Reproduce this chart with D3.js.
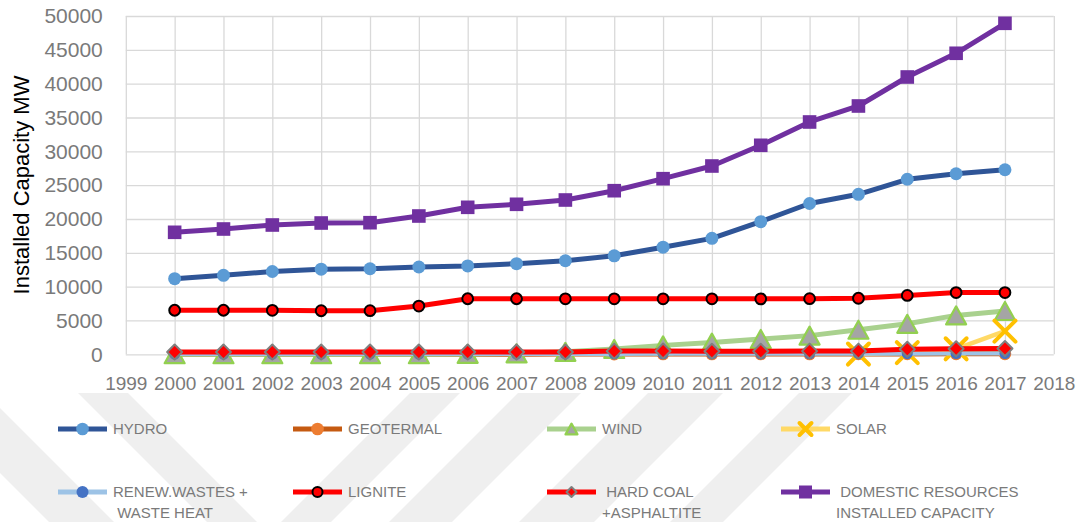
<!DOCTYPE html>
<html>
<head>
<meta charset="utf-8">
<script src="https://cdn.jsdelivr.net/npm/d3@7"></script>
<style>
  html, body { margin: 0; padding: 0; background: #ffffff; }
  svg { display: block; }
  text { font-family: "Liberation Sans", Arial, sans-serif; }
</style>
</head>
<body>
<svg id="chart" width="1084" height="522"></svg>
<script>
// ---- data (MW) ----
const years = [2000, 2001, 2002, 2003, 2004, 2005, 2006, 2007, 2008, 2009,
               2010, 2011, 2012, 2013, 2014, 2015, 2016, 2017];

const hydro      = [11175, 11673, 12241, 12579, 12645, 12906, 13063, 13395, 13829, 14553,
                    15831, 17137, 19609, 22289, 23643, 25868, 26681, 27273];
const geothermal = [18, 18, 18, 15, 15, 15, 23, 23, 30, 30,
                    40, 40, 50, 50, 60, 60, 70, 70];
const wind       = [19, 19, 19, 19, 19, 20, 59, 146, 364, 792,
                    1320, 1729, 2261, 2760, 3630, 4503, 5751, 6400];
const solar      = [null, null, null, null, null, null, null, null, null, null,
                    null, null, null, null, 40, 249, 819, 3421];
const renewWaste = [36, 28, 28, 28, 28, 35, 42, 42, 50, 60,
                    68, 70, 75, 80, 88, 95, 100, 110];
const lignite    = [6509, 6511, 6503, 6439, 6451, 7131, 8211, 8211, 8205, 8199,
                    8199, 8199, 8193, 8223, 8281, 8696, 9127, 9129];
const hardCoal   = [335, 335, 335, 335, 335, 335, 335, 335, 335, 470,
                    480, 440, 440, 470, 470, 740, 810, 850];
const domestic   = [18031, 18519, 19110, 19405, 19450, 20440, 21725, 22170, 22805, 24180,
                    25955, 27830, 30890, 34335, 36700, 40985, 44490, 48920];

const xTickYears = [1999, 2000, 2001, 2002, 2003, 2004, 2005, 2006, 2007, 2008, 2009,
                    2010, 2011, 2012, 2013, 2014, 2015, 2016, 2017, 2018];
const yTickValues = [0, 5000, 10000, 15000, 20000, 25000, 30000, 35000, 40000, 45000, 50000];

const yTitle = "Installed Capacity MW";

// series styling, in drawing order (later series sit on top)
// size = marker half-size in the plot, lsize = half-size of the legend key marker
const series = [
  { label: ["HYDRO"], values: hydro, line: "#2f5597", width: 5,
    marker: "circle", fill: "#5b9bd5", stroke: "none", sw: 0, size: 6.5, lsize: 6.3 },
  { label: ["GEOTERMAL"], values: geothermal, line: "#c55a11", width: 5,
    marker: "circle", fill: "#ed7d31", stroke: "none", sw: 0, size: 6.3, lsize: 6.3 },
  { label: ["WIND"], values: wind, line: "#a9d18e", width: 5,
    marker: "triangle", fill: "#a5a5a5", stroke: "#92d050", sw: 2.2, size: 10, lsize: 6 },
  { label: ["SOLAR"], values: solar, line: "#ffd966", width: 4.5,
    marker: "x", fill: "none", stroke: "#ffc000", sw: 4, size: 10.5, lsize: 6 },
  { label: ["RENEW.WASTES +", " WASTE HEAT"], values: renewWaste, line: "#9dc3e6", width: 4,
    marker: "circle", fill: "#4472c4", stroke: "none", sw: 0, size: 5.5, lsize: 6 },
  { label: ["LIGNITE"], values: lignite, line: "#ff0000", width: 5,
    marker: "circle", fill: "#ff0000", stroke: "#000000", sw: 2, size: 5.4, lsize: 5 },
  { label: [" HARD COAL", "+ASPHALTITE"], values: hardCoal, line: "#ff0000", width: 5,
    marker: "diamond", fill: "#ff0000", stroke: "#7f7f7f", sw: 2, size: 7.5, lsize: 5 },
  { label: [" DOMESTIC RESOURCES", "INSTALLED CAPACITY"], values: domestic, line: "#7030a0", width: 5,
    marker: "square", fill: "#7030a0", stroke: "none", sw: 0, size: 6.8, lsize: 6.5 }
];

// ---- layout ----
const svg = d3.select("#chart");
const W = 1084, H = 522;
const plot = { left: 125.8, right: 1053.8, top: 16, bottom: 354.3 };
const axisGray = "#7a7a7a";
const gridGray = "#d9d9d9";

// faint diagonal watermark bands behind the legend
const wm = svg.append("g");
const bandTop = 393, bandBottom = H;
const bh = bandBottom - bandTop;
const backBands = [[-80, -15], [78, 128]];                          // "\" bands
const fwdBands = [[410, 460], [518, 581], [648, 723], [799, 852]];   // "/" bands
backBands.forEach(([a, b]) => {
  wm.append("path")
    .attr("d", `M${a},${bandTop}L${b},${bandTop}L${b + bh},${bandBottom}L${a + bh},${bandBottom}Z`)
    .attr("fill", "#efefef");
});
fwdBands.forEach(([a, b]) => {
  wm.append("path")
    .attr("d", `M${a},${bandTop}L${b},${bandTop}L${b - bh},${bandBottom}L${a - bh},${bandBottom}Z`)
    .attr("fill", "#efefef");
});

const x = d3.scaleLinear().domain([1999, 2018]).range([plot.left, plot.right]);
const y = d3.scaleLinear().domain([0, 50000]).range([plot.bottom, plot.top]);

// y axis with horizontal gridlines
const yAxis = svg.append("g")
  .attr("transform", `translate(${plot.left},0)`)
  .call(d3.axisLeft(y).tickValues(yTickValues).tickFormat(d3.format("d"))
        .tickSize(-(plot.right - plot.left)).tickPadding(23));
yAxis.select(".domain").remove();
yAxis.selectAll(".tick line").attr("stroke", gridGray).attr("stroke-width", 1.3);
yAxis.selectAll(".tick text").attr("fill", axisGray)
  .style("font-size", "21px").style("font-family", '"Liberation Sans", Arial, sans-serif');

// x axis with vertical gridlines
const xAxis = svg.append("g")
  .attr("transform", `translate(0,${plot.bottom})`)
  .call(d3.axisBottom(x).tickValues(xTickYears).tickFormat(d3.format("d"))
        .tickSize(-(plot.bottom - plot.top)).tickPadding(22));
xAxis.select(".domain").remove();
xAxis.selectAll(".tick line").attr("stroke", gridGray).attr("stroke-width", 1.3);
xAxis.selectAll(".tick text").attr("fill", axisGray)
  .style("font-size", "19px").style("font-family", '"Liberation Sans", Arial, sans-serif');

// axis title
svg.append("text")
  .attr("transform", `translate(29,185) rotate(-90)`)
  .attr("text-anchor", "middle")
  .attr("fill", "#000000")
  .style("font-size", "22px")
  .text(yTitle);

// marker drawing
function drawMarker(g, s, cx, cy, r) {
  if (s.marker === "circle") {
    g.append("circle").attr("cx", cx).attr("cy", cy).attr("r", r)
      .attr("fill", s.fill).attr("stroke", s.stroke).attr("stroke-width", s.sw);
  } else if (s.marker === "square") {
    g.append("rect").attr("x", cx - r).attr("y", cy - r).attr("width", 2 * r).attr("height", 2 * r)
      .attr("fill", s.fill);
  } else if (s.marker === "diamond") {
    g.append("path")
      .attr("d", `M${cx},${cy - r}L${cx + r},${cy}L${cx},${cy + r}L${cx - r},${cy}Z`)
      .attr("fill", s.fill).attr("stroke", s.stroke).attr("stroke-width", s.sw)
      .attr("stroke-linejoin", "round");
  } else if (s.marker === "triangle") {
    const h = r * 1.8;
    g.append("path")
      .attr("d", `M${cx},${cy - h / 2}L${cx + r},${cy + h / 2}L${cx - r},${cy + h / 2}Z`)
      .attr("fill", s.fill).attr("stroke", s.stroke).attr("stroke-width", s.sw)
      .attr("stroke-linejoin", "round");
  } else if (s.marker === "x") {
    g.append("path")
      .attr("d", `M${cx - r},${cy - r}L${cx + r},${cy + r}M${cx + r},${cy - r}L${cx - r},${cy + r}`)
      .attr("fill", "none").attr("stroke", s.stroke).attr("stroke-width", s.sw)
      .attr("stroke-linecap", "round");
  }
}

// series lines and markers
const lineGen = d3.line()
  .defined(d => d.value !== null)
  .x(d => x(d.year))
  .y(d => y(d.value));

series.forEach(s => {
  const pts = years.map((yr, i) => ({ year: yr, value: s.values[i] }));
  const g = svg.append("g");
  g.append("path")
    .datum(pts)
    .attr("d", lineGen)
    .attr("fill", "none")
    .attr("stroke", s.line)
    .attr("stroke-width", s.width)
    .attr("stroke-linejoin", "round")
    .attr("stroke-linecap", "round");
  pts.filter(p => p.value !== null).forEach(p => drawMarker(g, s, x(p.year), y(p.value), s.size));
});

// legend: 4 columns x 2 rows
const legendCols = [58, 293, 547, 781];
const legendRows = [429, 492];
const lg = svg.append("g");
series.forEach((s, idx) => {
  const lx = legendCols[idx % 4];
  const ly = legendRows[Math.floor(idx / 4)];
  const g = lg.append("g");
  g.append("line")
    .attr("x1", lx).attr("x2", lx + 49).attr("y1", ly).attr("y2", ly)
    .attr("stroke", s.line).attr("stroke-width", 5);
  drawMarker(g, s, lx + 24.5, ly, s.lsize);
  s.label.forEach((t, li) => {
    g.append("text")
      .attr("x", lx + 55)
      .attr("y", ly + li * 21)
      .attr("dy", "0.36em")
      .attr("fill", axisGray)
      .style("font-size", "15px")
      .style("white-space", "pre")
      .text(t);
  });
});
</script>
</body>
</html>
